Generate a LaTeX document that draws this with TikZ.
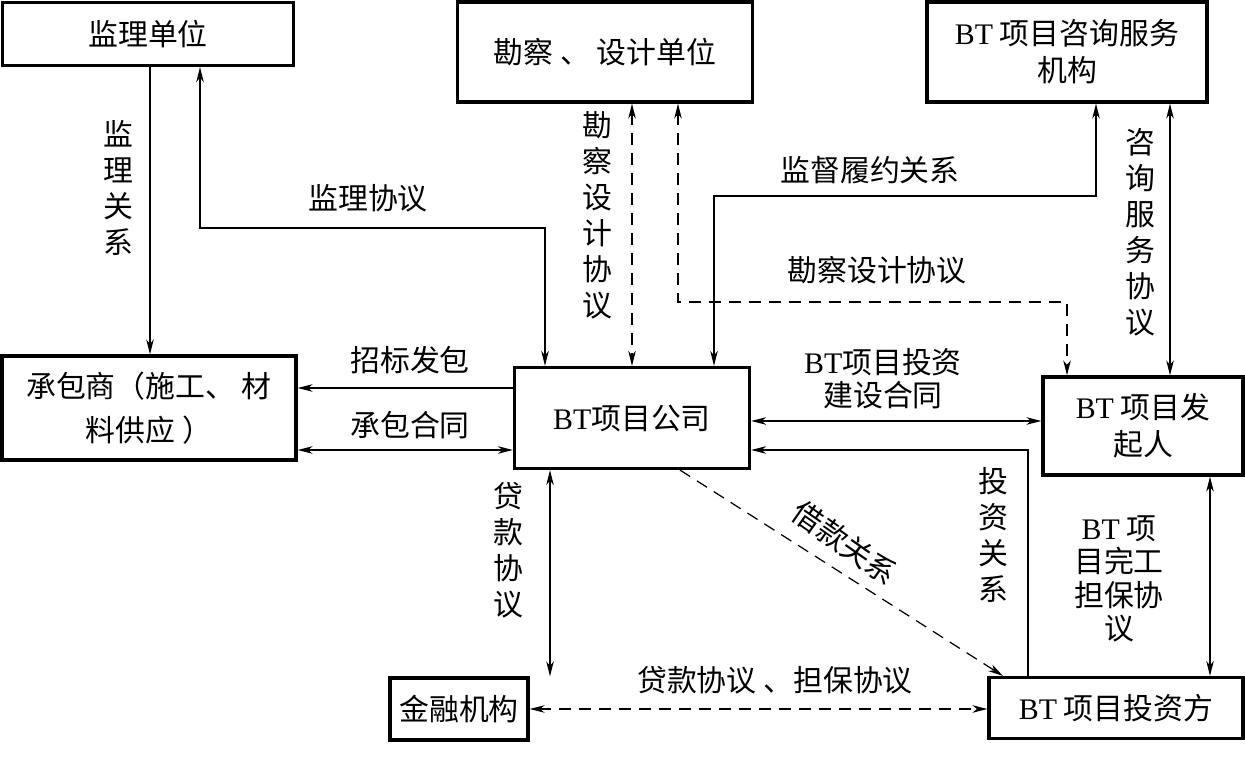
\documentclass[tikz,border=0pt]{standalone}
\usepackage{fontspec}
\setmainfont{Liberation Serif}
\newfontfamily\cjk{Noto Sans CJK SC}
\usepackage{tikz}
\usetikzlibrary{arrows.meta}
\newcommand{\lat}[1]{{\rmfamily #1}}

\begin{document}
\begin{tikzpicture}[x=0.02cm,y=-0.02cm,
  font={\cjk\fontsize{17pt}{21pt}\selectfont},
  >={Stealth[length=3mm,width=1.5mm,inset=0.9mm]},
  box/.style={draw, line width=1.8pt, align=center, inner sep=2pt},
  link/.style={line width=0.7pt},
  dlink/.style={link, dash pattern=on 2.4mm off 1.6mm},
  vlab/.style={align=center, font={\cjk\fontsize{17pt}{20.5pt}\selectfont}}]
\useasboundingbox (0,0) rectangle (1245,783);

% ---------- boxes ----------
\node[box, minimum width=5.82cm, minimum height=1.26cm] (jl) at (148,34) {监理单位};
\node[box, minimum width=5.90cm, minimum height=2.00cm] (kc) at (605,52) {勘察 、 设计单位};
\node[box, minimum width=5.60cm, minimum height=2.00cm] (zx) at (1067,52) {\lat{BT} 项目咨询服务\\机构};
\node[box, minimum width=5.88cm, minimum height=2.08cm,
  font={\cjk\fontsize{17pt}{25pt}\selectfont}] (cb) at (149,408) {承包商（施工、 材\\料供应 ）};
\node[box, minimum width=4.70cm, minimum height=2.02cm] (gs) at (632,418) {\lat{BT}项目公司};
\node[box, minimum width=4.00cm, minimum height=1.96cm] (fq) at (1143,426) {\lat{BT} 项目发\\起人};
\node[box, minimum width=2.76cm, minimum height=1.24cm] (jr) at (459,709) {金融机构};
\node[box, minimum width=5.08cm, minimum height=1.22cm] (tz) at (1116,708) {\lat{BT} 项目投资方};

% ---------- top connectors ----------
\draw[link,->] (jl.south -| 150,0) -- (cb.north -| 150,0);
\draw[link,<->] (jl.south -| 200,0) |- (545,228) -- (gs.north -| 545,0);
\draw[dlink,<->] (kc.south -| 632,0) -- (gs.north -| 632,0);
\draw[dlink,<->] (kc.south -| 678,0) |- (1067,302) -- (fq.north -| 1067,0);
\draw[link,<->] (zx.south -| 1096,0) |- (714,196) -- (gs.north -| 714,0);
\draw[link,<->] (zx.south -| 1170,0) -- (fq.north -| 1170,0);

% ---------- middle connectors ----------
\draw[link,->] (gs.west |- 0,388) -- (cb.east |- 0,388);
\draw[link,<->] (cb.east |- 0,450) -- (gs.west |- 0,450);
\draw[link,<->] (gs.east |- 0,421) -- (fq.west |- 0,421);
\draw[link,->] (tz.north -| 1028,0) |- (gs.east |- 0,450);

% ---------- bottom connectors ----------
\draw[link,<->] (gs.south -| 550,0) -- (jr.north -| 550,0);
\draw[dlink,->] (gs.south -| 680,0) -- (tz.north -| 1003,0);
\draw[dlink,<->] (jr.east |- 0,709) -- (tz.west |- 0,709);
\draw[link,<->] (fq.south -| 1210,0) -- (tz.north -| 1210,0);

% ---------- labels ----------
\node[vlab] (ljg) at (118,188) {监\\理\\关\\系};
\node (ljx) at (368,198) {监理协议};
\node[vlab] (lkv) at (597,215) {勘\\察\\设\\计\\协\\议};
\node (ljd) at (870,170) {监督履约关系};
\node (lkh) at (877,270) {勘察设计协议};
\node[vlab] (lzx) at (1140,232) {咨\\询\\服\\务\\协\\议};
\node (lzb) at (410,360) {招标发包};
\node (lcb) at (410,425) {承包合同};
\node[align=center, font={\cjk\fontsize{17pt}{19pt}\selectfont}] (ljs) at (883,379) {\lat{BT}项目投资\\建设合同};
\node[vlab] (ldk) at (508,550) {贷\\款\\协\\议};
\node[rotate=-35] (ljk) at (845,543) {借款关系};
\node[vlab] (ltg) at (993,535) {投\\资\\关\\系};
\node[align=center, font={\cjk\fontsize{17pt}{19pt}\selectfont}] (lwg) at (1119,579) {\lat{BT} 项\\目完工\\担保协\\议};
\node (ldb) at (775,680) {贷款协议 、担保协议};
\end{tikzpicture}
\end{document}
